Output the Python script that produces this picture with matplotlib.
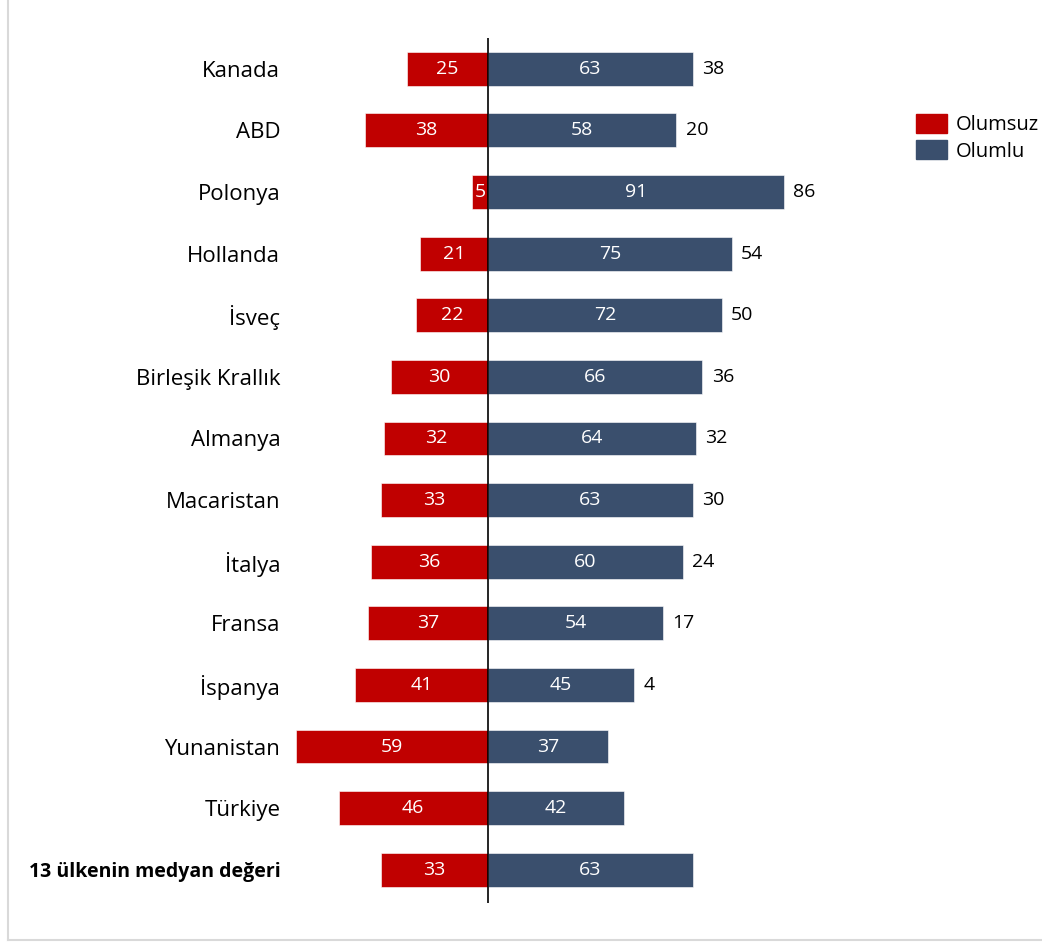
import matplotlib.pyplot as plt
from matplotlib.lines import Line2D
from matplotlib.patches import Patch

plt.rcParams['font.family'] = ['Open Sans', 'DejaVu Sans']

# data
countries = ["Kanada", "ABD", "Polonya", "Hollanda", "İsveç", "Birleşik Krallık",
             "Almanya", "Macaristan", "İtalya", "Fransa", "İspanya", "Yunanistan",
             "Türkiye", "13 ülkenin medyan değeri"]
negative = [25, 38, 5, 21, 22, 30, 32, 33, 36, 37, 41, 59, 46, 33]
positive = [63, 58, 91, 75, 72, 66, 64, 63, 60, 54, 45, 37, 42, 63]
net = [38, 20, 86, 54, 50, 36, 32, 30, 24, 17, 4, None, None, None]

red = "#C00000"
blue = "#3A4F6D"

fig = plt.figure(figsize=(10.42, 9.42), dpi=100)
W, H = 1042, 942
# axes placed in pixel terms: zero line at x=488, ~3.25 px per unit
ax_left, ax_right = 290, 880
ax_top, ax_bottom = 38, 903
ax = fig.add_axes([ax_left / W, (H - ax_bottom) / H,
                   (ax_right - ax_left) / W, (ax_bottom - ax_top) / H])
ppu = 3.25
ax.set_xlim((ax_left - 488) / ppu, (ax_right - 488) / ppu)
ax.set_ylim(13.54, -0.5)

y = list(range(len(countries)))
ax.barh(y, [-v for v in negative], height=0.55, color=red, edgecolor="white", linewidth=0.4)
ax.barh(y, positive, height=0.55, color=blue, edgecolor="white", linewidth=0.4)
ax.axvline(0, color="black", linewidth=1.2)

for i in y:
    ax.text(-negative[i] / 2, i, str(negative[i]), color="white", fontsize=14,
            ha="center", va="center")
    ax.text(positive[i] / 2, i, str(positive[i]), color="white", fontsize=14,
            ha="center", va="center")
    if net[i] is not None:
        ax.text(positive[i] + 2.8, i, str(net[i]), color="black", fontsize=14,
                ha="left", va="center")

ax.set_yticks(y)
ax.set_yticklabels(countries, fontsize=16)
ax.tick_params(axis="y", length=0, pad=7)
ax.get_yticklabels()[-1].set_fontweight("bold")
ax.get_yticklabels()[-1].set_fontsize(14)
ax.set_xticks([])
for s in ax.spines.values():
    s.set_visible(False)

handles = [Patch(color=red, label="Olumsuz"), Patch(color=blue, label="Olumlu")]
fig.legend(handles=handles, loc="upper left", bbox_to_anchor=(898 / W, 1 - 96 / H),
           frameon=False, fontsize=14.5, handlelength=1.55, handleheight=1.05,
           handletextpad=0.4, labelspacing=0.25)

# light frame on the left and bottom
fig.add_artist(Line2D([8 / W, 8 / W], [2 / H, 1], color="#D9D9D9", linewidth=1.5))
fig.add_artist(Line2D([8 / W, 1], [2 / H, 2 / H], color="#D9D9D9", linewidth=1.5))

fig.savefig("out.png", dpi=100)
